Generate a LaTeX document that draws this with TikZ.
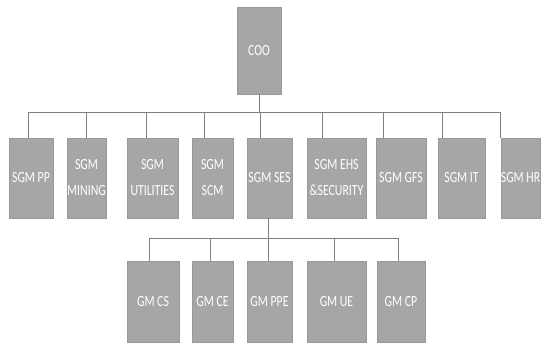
\documentclass[tikz,border=0pt]{standalone}
\usepackage{fontspec}
\usepackage{graphicx}
\setmainfont{Carlito}
\newcommand{\bt}[1]{\scalebox{0.76}[1]{\begin{tabular}{@{}c@{}}#1\end{tabular}}}
\begin{document}
\begin{tikzpicture}[x=1pt,y=-1pt,
  box/.style={draw=boxline,fill=boxfill,line width=0.5pt,text=white,align=center,
    inner sep=0pt,font=\fontsize{15.5}{24}\selectfont,anchor=center},
  conn/.style={draw=connline,line width=0.9pt}]
\definecolor{boxfill}{HTML}{A6A6A6}
\definecolor{boxline}{HTML}{999999}
\definecolor{connline}{HTML}{808080}
\useasboundingbox[fill=white] (0,0) rectangle (544,344);
% top
\node[box,minimum width=44pt,minimum height=87pt] (coo) at (259,50.5) {\bt{COO}};
% row 2
\node[box,minimum width=44pt,minimum height=80pt] (pp) at (31,178) {\bt{SGM PP}};
\node[box,minimum width=39pt,minimum height=80pt] (mining) at (86.5,178) {\bt{SGM\\[2pt]MINING}};
\node[box,minimum width=51pt,minimum height=80pt] (util) at (152.5,178) {\bt{SGM\\[2pt]UTILITIES}};
\node[box,minimum width=41pt,minimum height=80pt] (scm) at (212.5,178) {\bt{SGM\\[2pt]SCM}};
\node[box,minimum width=45pt,minimum height=80pt] (ses) at (269.5,178) {\bt{SGM SES}};
\node[box,minimum width=59pt,minimum height=80pt] (ehs) at (336.5,178) {\bt{SGM EHS\\[2pt]\&SECURITY}};
\node[box,minimum width=50pt,minimum height=80pt] (gfs) at (401,178) {\bt{SGM GFS}};
\node[box,minimum width=47pt,minimum height=80pt] (it) at (461.5,178) {\bt{SGM IT}};
\node[box,minimum width=39pt,minimum height=80pt] (hr) at (520.5,178) {\bt{SGM HR}};
% row 3
\node[box,minimum width=52pt,minimum height=81pt] (cs) at (153,301.5) {\bt{GM CS}};
\node[box,minimum width=41pt,minimum height=81pt] (ce) at (212.5,301.5) {\bt{GM CE}};
\node[box,minimum width=45pt,minimum height=81pt] (ppe) at (269.5,301.5) {\bt{GM PPE}};
\node[box,minimum width=59pt,minimum height=81pt] (ue) at (336.5,301.5) {\bt{GM UE}};
\node[box,minimum width=48pt,minimum height=81pt] (cp) at (401,301.5) {\bt{GM CP}};
% connectors level 1
\coordinate (busa) at (28,112);
\coordinate (busb) at (500,112);
\draw[conn] (coo.south) -- (coo.south |- busa);
\draw[conn] (busa) -- (busb);
\foreach \n/\x in {pp/28,mining/86,util/146,scm/204,ses/260,ehs/322,gfs/383,it/442,hr/500}
  \draw[conn] (\x,112) -- (\n.north -| \x,0);
% connectors level 2
\coordinate (busc) at (149,238);
\coordinate (busd) at (398,238);
\draw[conn] (ses.south -| 268,0) -- (ppe.north -| 268,0);
\draw[conn] (busc) -- (busd);
\foreach \n/\x in {cs/149,ce/210,ue/334,cp/398}
  \draw[conn] (\x,238) -- (\n.north -| \x,0);
\end{tikzpicture}
\end{document}
